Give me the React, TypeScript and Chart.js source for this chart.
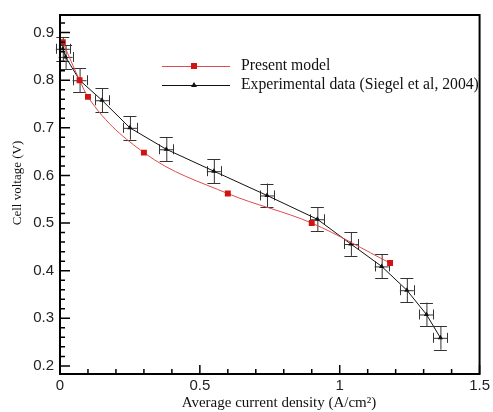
import React, { useEffect, useRef } from "react";
import Chart from "chart.js/auto";

// Present model (red squares)
const modelX = [0.01, 0.07, 0.10, 0.30, 0.60, 0.90, 1.18];
const modelY = [0.880, 0.800, 0.765, 0.648, 0.562, 0.500, 0.416];

// Experimental data (Siegel et al, 2004) (black triangles)
const expX = [0.01, 0.02, 0.07, 0.15, 0.25, 0.38, 0.55, 0.74, 0.92, 1.04, 1.15, 1.24, 1.31, 1.36];
const expY = [0.866, 0.849, 0.800, 0.758, 0.700, 0.655, 0.609, 0.558, 0.508, 0.456, 0.409, 0.359, 0.308, 0.259];
const expErrX = [0.025, 0.025, 0.025, 0.025, 0.025, 0.025, 0.025, 0.025, 0.025, 0.025, 0.025, 0.025, 0.025, 0.025];
const expErrY = [0.025, 0.025, 0.025, 0.025, 0.025, 0.025, 0.025, 0.025, 0.025, 0.025, 0.025, 0.025, 0.025, 0.025];

const xTicks = [0, 0.5, 1, 1.5];
const xTickLabels = ["0", "0.5", "1", "1.5"];
const yTicks = [0.2, 0.3, 0.4, 0.5, 0.6, 0.7, 0.8, 0.9];
const yTickLabels = ["0.2", "0.3", "0.4", "0.5", "0.6", "0.7", "0.8", "0.9"];
const xMinorTicks = [0.1, 0.2, 0.3, 0.4, 0.6, 0.7, 0.8, 0.9, 1.1, 1.2, 1.3, 1.4];
const yMinorTicks = [0.22, 0.24, 0.26, 0.28, 0.32, 0.34, 0.36, 0.38, 0.42, 0.44, 0.46, 0.48, 0.52, 0.54, 0.56, 0.58, 0.62, 0.64, 0.66, 0.68, 0.72, 0.74, 0.76, 0.78, 0.82, 0.84, 0.86, 0.88, 0.92];

const legendLabels = ["Present model", "Experimental data (Siegel et al, 2004)"];
const xTitle = "Average current density (A/cm²)";
const yTitle = "Cell voltage (V)";

const RED = "#d01414";
const RED_LINE = "#e04a4a";
const BLACK = "#111111";
const SERIF = "'Liberation Serif', 'Times New Roman', serif";
const SANS = "'Liberation Sans', Arial, sans-serif";

const customPlugin = {
  id: "custom",
  beforeDatasetsDraw(chart: any) {
    const ctx = chart.ctx;
    const xs = chart.scales.x;
    const ys = chart.scales.y;
    ctx.save();
    ctx.strokeStyle = "#333";
    ctx.lineWidth = 1;
    for (let i = 0; i < expX.length; i++) {
      const cx = xs.getPixelForValue(expX[i]);
      const cy = ys.getPixelForValue(expY[i]);
      const x0 = xs.getPixelForValue(expX[i] - expErrX[i]);
      const x1 = xs.getPixelForValue(expX[i] + expErrX[i]);
      const y0 = ys.getPixelForValue(expY[i] + expErrY[i]);
      const y1 = ys.getPixelForValue(expY[i] - expErrY[i]);
      ctx.beginPath();
      ctx.moveTo(cx + 0.5, y0);
      ctx.lineTo(cx + 0.5, y1);
      ctx.moveTo(cx - 6.5, Math.round(y0) + 0.5);
      ctx.lineTo(cx + 6.5, Math.round(y0) + 0.5);
      ctx.moveTo(cx - 6.5, Math.round(y1) + 0.5);
      ctx.lineTo(cx + 6.5, Math.round(y1) + 0.5);
      ctx.moveTo(x0, cy + 0.5);
      ctx.lineTo(x1, cy + 0.5);
      ctx.moveTo(Math.round(x0) + 0.5, cy - 5);
      ctx.lineTo(Math.round(x0) + 0.5, cy + 5);
      ctx.moveTo(Math.round(x1) + 0.5, cy - 5);
      ctx.lineTo(Math.round(x1) + 0.5, cy + 5);
      ctx.stroke();
    }
    ctx.restore();
  },
  afterDraw(chart: any) {
    const ctx = chart.ctx;
    const xs = chart.scales.x;
    const ys = chart.scales.y;
    const a = chart.chartArea;
    ctx.save();
    // frame
    ctx.strokeStyle = "#000";
    ctx.lineWidth = 2;
    ctx.strokeRect(a.left, a.top, a.right - a.left, a.bottom - a.top);
    // ticks inside
    ctx.lineWidth = 1.5;
    ctx.beginPath();
    yTicks.forEach((v) => {
      const y = ys.getPixelForValue(v);
      ctx.moveTo(a.left, y);
      ctx.lineTo(a.left + 10, y);
    });
    yMinorTicks.forEach((v) => {
      const y = ys.getPixelForValue(v);
      ctx.moveTo(a.left, y);
      ctx.lineTo(a.left + 5, y);
    });
    xTicks.forEach((v) => {
      const x = xs.getPixelForValue(v);
      ctx.moveTo(x, a.bottom);
      ctx.lineTo(x, a.bottom - 9);
    });
    xMinorTicks.forEach((v) => {
      const x = xs.getPixelForValue(v);
      ctx.moveTo(x, a.bottom);
      ctx.lineTo(x, a.bottom - 5);
    });
    ctx.stroke();

    // legend
    const lx0 = 162, lx1 = 230, ly = [66, 85];
    ctx.lineWidth = 1;
    ctx.strokeStyle = RED_LINE;
    ctx.beginPath();
    ctx.moveTo(lx0, ly[0] + 0.5);
    ctx.lineTo(lx1, ly[0] + 0.5);
    ctx.stroke();
    ctx.fillStyle = RED;
    ctx.fillRect(194 - 3, ly[0] - 3, 6, 6);
    ctx.strokeStyle = BLACK;
    ctx.beginPath();
    ctx.moveTo(lx0, ly[1] + 0.5);
    ctx.lineTo(lx1, ly[1] + 0.5);
    ctx.stroke();
    ctx.fillStyle = BLACK;
    ctx.beginPath();
    ctx.moveTo(194, ly[1] - 3);
    ctx.lineTo(197, ly[1] + 2);
    ctx.lineTo(191, ly[1] + 2);
    ctx.closePath();
    ctx.fill();
    ctx.fillStyle = "#111";
    ctx.font = `15.7px ${SERIF}`;
    ctx.textBaseline = "middle";
    ctx.textAlign = "left";
    ctx.fillText(legendLabels[0], 241, ly[0]);
    ctx.fillText(legendLabels[1], 241, ly[1]);

    // axis titles
    ctx.textAlign = "center";
    ctx.font = `15px ${SERIF}`;
    ctx.fillText(xTitle, 279, 403);
    ctx.save();
    ctx.translate(18, 183);
    ctx.rotate(-Math.PI / 2);
    ctx.font = `13px ${SERIF}`;
    ctx.fillText(yTitle, 0, 0);
    ctx.restore();
    ctx.restore();
  },
};

export default function App() {
  const ref = useRef<HTMLCanvasElement | null>(null);
  useEffect(() => {
    document.body.style.margin = "0";
    document.body.style.overflow = "hidden";
    const canvas = ref.current!;
    const chart = new Chart(canvas, {
      type: "scatter",
      data: {
        datasets: [
          {
            label: legendLabels[0],
            data: modelX.map((x, i) => ({ x, y: modelY[i] })),
            showLine: true,
            borderColor: RED_LINE,
            borderWidth: 1,
            backgroundColor: RED,
            pointBackgroundColor: RED,
            pointBorderColor: RED,
            pointStyle: "rect",
            pointRadius: 4.2,
            pointBorderWidth: 0,
            cubicInterpolationMode: "monotone",
          },
          {
            label: legendLabels[1],
            data: expX.map((x, i) => ({ x, y: expY[i] })),
            showLine: true,
            borderColor: BLACK,
            borderWidth: 1,
            backgroundColor: BLACK,
            pointBackgroundColor: BLACK,
            pointBorderColor: BLACK,
            pointStyle: "triangle",
            pointRadius: 3,
            pointBorderWidth: 0,
            tension: 0,
          },
        ],
      },
      options: {
        responsive: false,
        animation: false,
        devicePixelRatio: 1,
        layout: { padding: { left: 8, right: 11, top: 9, bottom: 0 } },
        plugins: { legend: { display: false }, tooltip: { enabled: false } },
        scales: {
          x: {
            type: "linear",
            min: 0,
            max: 1.5,
            grid: { display: false, drawTicks: false },
            border: { display: false },
            afterBuildTicks: (s: any) => {
              s.ticks = xTicks.map((v) => ({ value: v }));
            },
            afterFit: (s: any) => {
              s.height = 38;
            },
            ticks: {
              padding: 3,
              color: "#222",
              font: { family: SANS, size: 15 },
              maxRotation: 0,
              callback: (v: any) => {
                const i = xTicks.indexOf(Number(v));
                return i >= 0 ? xTickLabels[i] : "";
              },
            },
          },
          y: {
            type: "linear",
            min: 0.183,
            max: 0.937,
            grid: { display: false, drawTicks: false },
            border: { display: false },
            afterBuildTicks: (s: any) => {
              s.ticks = yTicks.map((v) => ({ value: v }));
            },
            afterFit: (s: any) => {
              s.width = 52;
            },
            ticks: {
              padding: 6,
              color: "#222",
              font: { family: SANS, size: 15 },
              callback: (v: any) => {
                const i = yTicks.findIndex((t) => Math.abs(t - Number(v)) < 1e-6);
                return i >= 0 ? yTickLabels[i] : "";
              },
            },
          },
        },
      },
      plugins: [customPlugin],
    } as any);
    return () => chart.destroy();
  }, []);
  return (
    <div style={{ width: 493, height: 412, position: "relative", background: "#fff" }}>
      <canvas ref={ref} width={493} height={412} />
    </div>
  );
}
